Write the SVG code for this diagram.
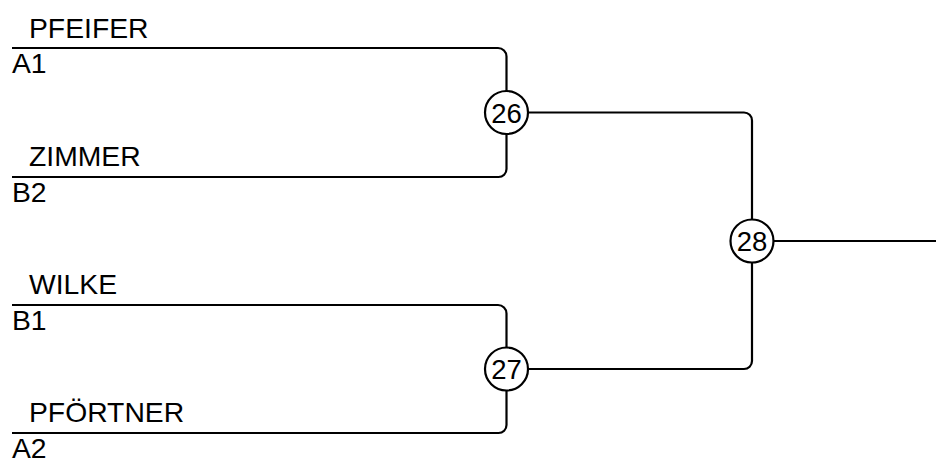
<svg xmlns="http://www.w3.org/2000/svg" width="936" height="459" viewBox="0 0 936 459">
<style>
.wire{fill:none;stroke:#000;stroke-width:2.2}
.node circle{fill:#fff;stroke:#000;stroke-width:2.2}
text{font-family:"Liberation Sans",Arial,sans-serif;font-size:28.3px;fill:#000}
.num{text-anchor:middle;font-size:27.5px}
</style>
<rect width="936" height="459" fill="#fff"/>
<g id="connectors">
<path class="wire" d="M12,48 H498 A8.5,8.5 0 0 1 506.5,56.5 V169 A8,8 0 0 1 498.5,177 H12"/>
<path class="wire" d="M12,305 H498 A8.5,8.5 0 0 1 506.5,313.5 V425 A8,8 0 0 1 498.5,433 H12"/>
<path class="wire" d="M506.5,112.5 H744 A8,8 0 0 1 752,120.5 V361 A8,8 0 0 1 744,369 H506.5"/>
<path class="wire" d="M752,241 H936"/>
</g>
<g id="team-pfeifer"><text x="29" y="38">PFEIFER</text><text x="12" y="73">A1</text></g>
<g id="team-zimmer"><text x="29" y="166">ZIMMER</text><text x="12" y="202">B2</text></g>
<g id="team-wilke"><text x="29" y="294">WILKE</text><text x="12" y="330">B1</text></g>
<g id="team-pfoertner"><text x="29" y="422">PFÖRTNER</text><text x="12" y="458">A2</text></g>
<g id="node-26" class="node"><circle cx="506.5" cy="112.5" r="21.5"/><text class="num" x="506.5" y="122.5">26</text></g>
<g id="node-27" class="node"><circle cx="506.5" cy="369" r="21.5"/><text class="num" x="506.5" y="379">27</text></g>
<g id="node-28" class="node"><circle cx="752" cy="241" r="21.5"/><text class="num" x="752" y="251">28</text></g>
</svg>
